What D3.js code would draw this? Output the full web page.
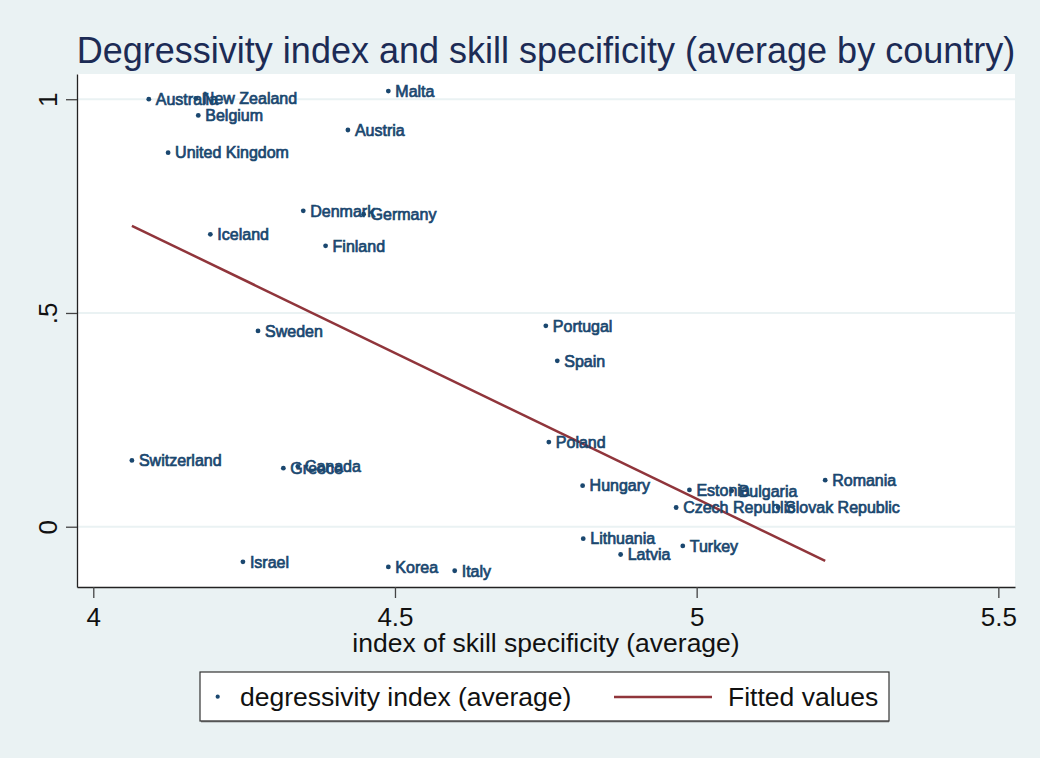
<!DOCTYPE html>
<html>
<head>
<meta charset="utf-8">
<script src="https://cdn.jsdelivr.net/npm/d3@7"></script>
<style>
  body { margin: 0; background: #eaf2f3; }
</style>
</head>
<body>
<div id="chart"></div>
<script>
// values
const countries = ["Australia", "New Zealand", "Belgium", "Malta", "Austria", "United Kingdom",
  "Denmark", "Germany", "Iceland", "Finland", "Sweden", "Switzerland", "Greece", "Canada",
  "Israel", "Korea", "Italy", "Portugal", "Spain", "Poland", "Hungary", "Estonia", "Bulgaria",
  "Romania", "Czech Republic", "Slovak Republic", "Lithuania", "Latvia", "Turkey"];
const skillSpec = [4.092, 4.170, 4.174, 4.489, 4.422, 4.124,
  4.348, 4.448, 4.194, 4.385, 4.273, 4.064, 4.315, 4.339,
  4.248, 4.489, 4.599, 4.750, 4.769, 4.755, 4.811, 4.988, 5.058,
  5.213, 4.966, 5.135, 4.812, 4.874, 4.977];
const degressivity = [1.000, 1.002, 0.962, 1.019, 0.928, 0.875,
  0.739, 0.731, 0.684, 0.657, 0.458, 0.155, 0.137, 0.141,
  -0.082, -0.094, -0.103, 0.470, 0.388, 0.198, 0.096, 0.086, 0.084,
  0.109, 0.045, 0.045, -0.028, -0.065, -0.045];
const fitX = [4.064, 5.213];
const fitY = [0.704, -0.080];
const xTicks = [4, 4.5, 5, 5.5];
const xTickLabels = ["4", "4.5", "5", "5.5"];
const yTicks = [0, 0.5, 1];
const yTickLabels = ["0", ".5", "1"];

const width = 1040, height = 758;
const margin = { top: 74, right: 25, bottom: 171, left: 77 };
const font = "'Liberation Sans', Arial, sans-serif";
const navy = "#1a476f", maroon = "#90353b", bg = "#eaf2f3";

const svg = d3.select("#chart").append("svg")
  .attr("width", width)
  .attr("height", height)
  .style("background", bg)
  .style("font-family", font);

const x = d3.scaleLinear().domain([3.973, 5.5276]).range([margin.left, width - margin.right]);
const y = d3.scaleLinear().domain([-0.141, 1.059]).range([height - margin.bottom, margin.top]);

// plot region
svg.append("rect")
  .attr("x", margin.left).attr("y", margin.top)
  .attr("width", width - margin.left - margin.right)
  .attr("height", height - margin.top - margin.bottom)
  .attr("fill", "white");

// gridlines
svg.append("g").selectAll("line").data(yTicks).enter().append("line")
  .attr("x1", margin.left).attr("x2", width - margin.right)
  .attr("y1", d => y(d)).attr("y2", d => y(d))
  .attr("stroke", bg).attr("stroke-width", 2);

// title
svg.append("text")
  .attr("x", (margin.left + width - margin.right) / 2)
  .attr("y", 63)
  .attr("text-anchor", "middle")
  .attr("fill", "#1c2b55")
  .style("font-size", "36px")
  .text("Degressivity index and skill specificity (average by country)");

// axes
const xAxisG = svg.append("g")
  .attr("transform", `translate(0,${height - margin.bottom})`)
  .call(d3.axisBottom(x).tickValues(xTicks).tickFormat((d, i) => xTickLabels[i])
    .tickSize(11).tickSizeOuter(0));
xAxisG.selectAll("text")
  .attr("y", 39).attr("dy", 0)
  .attr("fill", "#111")
  .style("font-size", "26px").style("font-family", font);

const yAxisG = svg.append("g")
  .attr("transform", `translate(${margin.left},0)`)
  .call(d3.axisLeft(y).tickValues(yTicks).tickFormat((d, i) => yTickLabels[i])
    .tickSize(11).tickSizeOuter(0));
yAxisG.selectAll("text")
  .attr("x", 0).attr("y", -20).attr("dy", 0)
  .attr("text-anchor", "middle")
  .attr("transform", "rotate(-90)")
  .attr("fill", "#111")
  .style("font-size", "26px").style("font-family", font);

[xAxisG, yAxisG].forEach(g => {
  g.selectAll(".domain").attr("stroke", "#222").attr("stroke-width", 1.3);
  g.selectAll(".tick line").attr("stroke", "#444").attr("stroke-width", 1.3);
});

// x title
svg.append("text")
  .attr("x", (margin.left + width - margin.right) / 2)
  .attr("y", 652)
  .attr("text-anchor", "middle")
  .attr("fill", "#111")
  .style("font-size", "26.5px")
  .text("index of skill specificity (average)");

// fitted line
const line = d3.line().x(d => x(d[0])).y(d => y(d[1]));
svg.append("path")
  .datum(fitX.map((v, i) => [v, fitY[i]]))
  .attr("d", line)
  .attr("fill", "none")
  .attr("stroke", maroon)
  .attr("stroke-width", 2.5);

// points and labels
const pts = svg.append("g").selectAll("g")
  .data(countries.map((c, i) => ({ c, sx: skillSpec[i], dg: degressivity[i] })))
  .enter().append("g")
  .attr("transform", d => `translate(${x(d.sx)},${y(d.dg)})`);

pts.append("circle").attr("r", 2.4).attr("fill", navy);
pts.append("text")
  .attr("x", 7).attr("dy", "0.36em")
  .attr("fill", navy)
  .attr("stroke", navy).attr("stroke-width", 0.7)
  .style("font-size", "16px")
  .text(d => d.c);

// legend
const lg = svg.append("g");
lg.append("rect")
  .attr("x", 200).attr("y", 672).attr("width", 689).attr("height", 49)
  .attr("fill", "white").attr("stroke", "#333").attr("stroke-width", 1.2);
lg.append("line").attr("x1", 201).attr("x2", 889).attr("y1", 721.5).attr("y2", 721.5)
  .attr("stroke", "#555").attr("stroke-width", 1.5);
lg.append("circle").attr("cx", 217.7).attr("cy", 696.7).attr("r", 2.1).attr("fill", navy);
lg.append("text").attr("x", 240).attr("y", 706).attr("fill", "#111")
  .style("font-size", "26.5px").text("degressivity index (average)");
lg.append("line").attr("x1", 614).attr("x2", 712).attr("y1", 697).attr("y2", 697)
  .attr("stroke", maroon).attr("stroke-width", 2.5);
lg.append("text").attr("x", 728).attr("y", 706).attr("fill", "#111")
  .style("font-size", "26.5px").text("Fitted values");
</script>
</body>
</html>
